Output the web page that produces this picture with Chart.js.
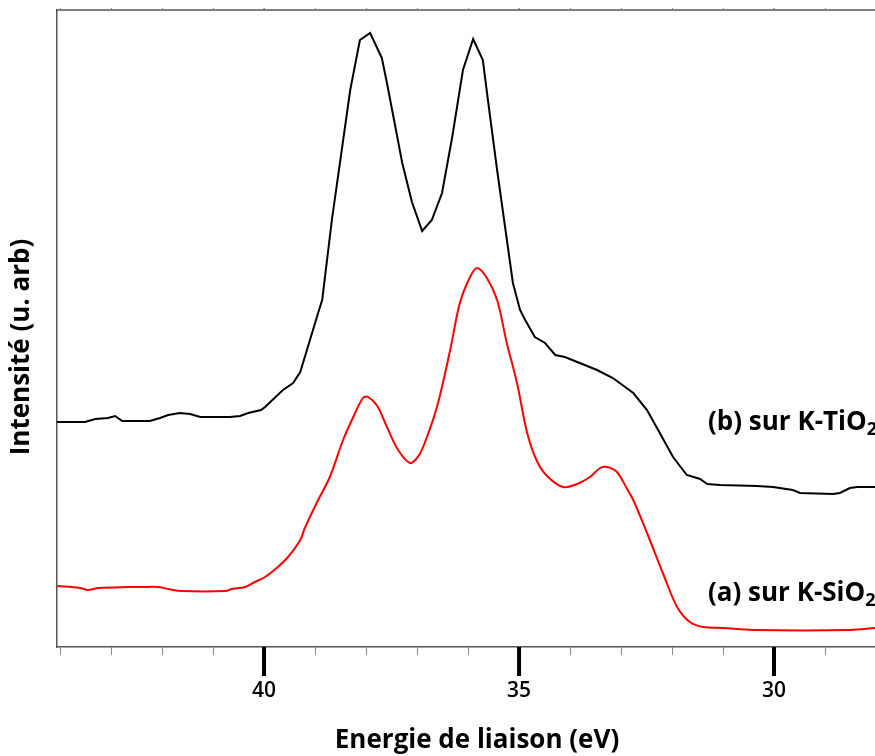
<!DOCTYPE html>
<html>
<head>
<meta charset="utf-8">
<script src="https://cdn.jsdelivr.net/npm/chart.js@4/dist/chart.umd.min.js"></script>
<style>
  body { margin: 0; background: #fff; }
  canvas { display: block; }
</style>
</head>
<body>
<canvas id="spectre" width="875" height="756"></canvas>
<script>
// DONNEES (intensité en unités arbitraires)
const energieB = [44.06, 43.51, 43.31, 43.06, 42.92, 42.78, 42.24, 42.04, 41.88, 41.65, 41.45, 41.25, 40.67, 40.47, 40.31, 40.06, 39.98, 39.63, 39.43, 39.29, 38.94, 38.86, 38.67, 38.31, 38.12, 37.92, 37.69, 37.59, 37.29, 37.10, 36.90, 36.71, 36.51, 36.31, 36.10, 35.90, 35.71, 35.61, 35.43, 35.12, 34.98, 34.88, 34.69, 34.49, 34.29, 34.10, 33.86, 33.47, 33.16, 32.76, 32.49, 32.24, 31.98, 31.71, 31.45, 31.31, 31.06, 30.33, 30.02, 29.63, 29.49, 28.84, 28.71, 28.51, 28.37, 28.02];
const intensiteB = [224, 224, 227, 228, 230, 225, 225, 228, 231, 233, 232, 229, 229, 230, 233, 236, 239, 256, 263, 274, 333, 346, 426, 556, 606, 613, 588, 563, 483, 444, 415, 426, 453, 509, 576, 607, 586, 546, 476, 363, 336, 326, 309, 303, 291, 289, 284, 276, 268, 253, 236, 213, 189, 171, 167, 162, 161, 160, 159, 156, 153, 152, 153, 158, 159, 159];

const energieA = [44.06, 43.61, 43.45, 43.25, 42.67, 42.39, 42.08, 41.88, 41.61, 40.76, 40.63, 40.37, 40.18, 39.98, 39.73, 39.53, 39.29, 39.20, 38.94, 38.71, 38.45, 38.25, 38.06, 37.96, 37.78, 37.59, 37.37, 37.14, 37.00, 36.88, 36.61, 36.35, 36.16, 35.96, 35.82, 35.63, 35.43, 35.24, 35.04, 34.84, 34.65, 34.45, 34.14, 33.86, 33.61, 33.41, 33.27, 33.08, 32.88, 32.76, 32.49, 32.18, 31.90, 31.65, 31.39, 31.00, 30.41, 28.51, 28.02];
const intensiteA = [60, 58, 56, 58, 59, 59, 59, 57, 55, 55, 57, 59, 64, 69, 79, 89, 106, 118, 146, 169, 206, 229, 248, 249, 240, 219, 196, 183, 188, 199, 239, 296, 343, 369, 378, 368, 346, 303, 263, 213, 185, 170, 159, 162, 169, 178, 179, 174, 157, 146, 113, 73, 39, 24, 19, 18, 16, 16, 18];

const ticksMajeurs = [40, 35, 30];
const ticksMineurs = [44, 43, 42, 41, 39, 38, 37, 36, 34, 33, 32, 31, 29];
const etiquettes = [
    { texte: "(b) sur K-TiO", indice: "2", x: 708, y: 423 },
    { texte: "(a) sur K-SiO", indice: "2", x: 708, y: 594 }
];
// ----------------

const versPoints = (xs, ys) => xs.map((x, i) => ({ x: x, y: ys[i] }));

const police = '"Open Sans", "DejaVu Sans", sans-serif';

// ticks, cadre du haut, titres et étiquettes des courbes
const decorPlugin = {
    id: 'decor',
    afterDraw: (chart) => {
        const ctx = chart.ctx;
        const area = chart.chartArea;
        const sx = chart.scales.x;
        ctx.save();
        // cadre du haut
        ctx.strokeStyle = '#555';
        ctx.lineWidth = 1.5;
        ctx.beginPath();
        ctx.moveTo(area.left, area.top);
        ctx.lineTo(area.right, area.top);
        ctx.stroke();
        // ticks mineurs
        ctx.strokeStyle = '#888';
        ctx.lineWidth = 1;
        ticksMineurs.forEach(v => {
            const px = Math.round(sx.getPixelForValue(v)) + 0.5;
            ctx.beginPath();
            ctx.moveTo(px, area.bottom);
            ctx.lineTo(px, area.bottom + 8);
            ctx.moveTo(px, area.top);
            ctx.lineTo(px, area.top - 2);
            ctx.stroke();
        });
        // ticks majeurs
        ticksMajeurs.forEach(v => {
            const px = sx.getPixelForValue(v);
            ctx.strokeStyle = '#000';
            ctx.lineWidth = 4;
            ctx.beginPath();
            ctx.moveTo(px, area.bottom);
            ctx.lineTo(px, area.bottom + 29);
            ctx.stroke();
            ctx.lineWidth = 1;
            ctx.strokeStyle = '#555';
            ctx.beginPath();
            ctx.moveTo(px, area.top);
            ctx.lineTo(px, area.top - 2);
            ctx.stroke();
        });
        // titre axe x
        ctx.fillStyle = '#000';
        ctx.font = 'bold 26px ' + police;
        ctx.textAlign = 'center';
        ctx.textBaseline = 'alphabetic';
        ctx.fillText('Energie de liaison (eV)', 477, 748);
        // titre axe y
        ctx.textBaseline = 'middle';
        ctx.translate(22, 347);
        ctx.rotate(-Math.PI / 2);
        ctx.fillText('Intensité (u. arb)', 0, 0);
        ctx.restore();

        // étiquettes des courbes
        ctx.save();
        ctx.fillStyle = '#000';
        ctx.textBaseline = 'middle';
        ctx.textAlign = 'left';
        etiquettes.forEach(e => {
            ctx.font = 'bold 26px ' + police;
            ctx.fillText(e.texte, e.x, e.y);
            const w = ctx.measureText(e.texte).width;
            ctx.font = 'bold 18px ' + police;
            ctx.fillText(e.indice, e.x + w, e.y + 7);
        });
        ctx.restore();
    }
};

const dataSpectre = {
    datasets: [
        {
            label: '(b) sur K-TiO2',
            data: versPoints(energieB, intensiteB),
            borderColor: '#000',
            borderWidth: 2,
            pointRadius: 0,
            tension: 0,
            fill: false
        },
        {
            label: '(a) sur K-SiO2',
            data: versPoints(energieA, intensiteA),
            borderColor: '#ff0000',
            borderWidth: 2,
            pointRadius: 0,
            tension: 0.35,
            fill: false
        }
    ]
};

const configSpectre = {
    type: 'line',
    data: dataSpectre,
    options: {
        responsive: false,
        animation: false,
        layout: { padding: { top: 10, right: 0, left: 0, bottom: 0 } },
        plugins: {
            legend: { display: false },
            tooltip: { enabled: false }
        },
        scales: {
            x: {
                type: 'linear',
                reverse: true,
                min: 28.02,
                max: 44.06,
                grid: {
                    display: true,
                    drawOnChartArea: false,
                    drawTicks: true,
                    tickLength: 31,
                    tickColor: 'rgba(0,0,0,0)'
                },
                border: { display: true, color: '#555', width: 1.5 },
                ticks: {
                    stepSize: 1,
                    autoSkip: false,
                    maxRotation: 0,
                    padding: 0,
                    color: '#000',
                    font: { family: police, size: 21, weight: '600' },
                    callback: (v) => ticksMajeurs.includes(v) ? String(v) : ''
                },
                afterFit: (scale) => { scale.height = 109; }
            },
            y: {
                min: -1,
                max: 636,
                grid: { display: false },
                border: { display: true, color: '#555', width: 1.5 },
                ticks: { display: false },
                afterFit: (scale) => { scale.width = 57; }
            }
        }
    },
    plugins: [decorPlugin]
};

const spectre = document.getElementById('spectre');
const chartSpectre = new Chart(spectre, configSpectre);
</script>
</body>
</html>
